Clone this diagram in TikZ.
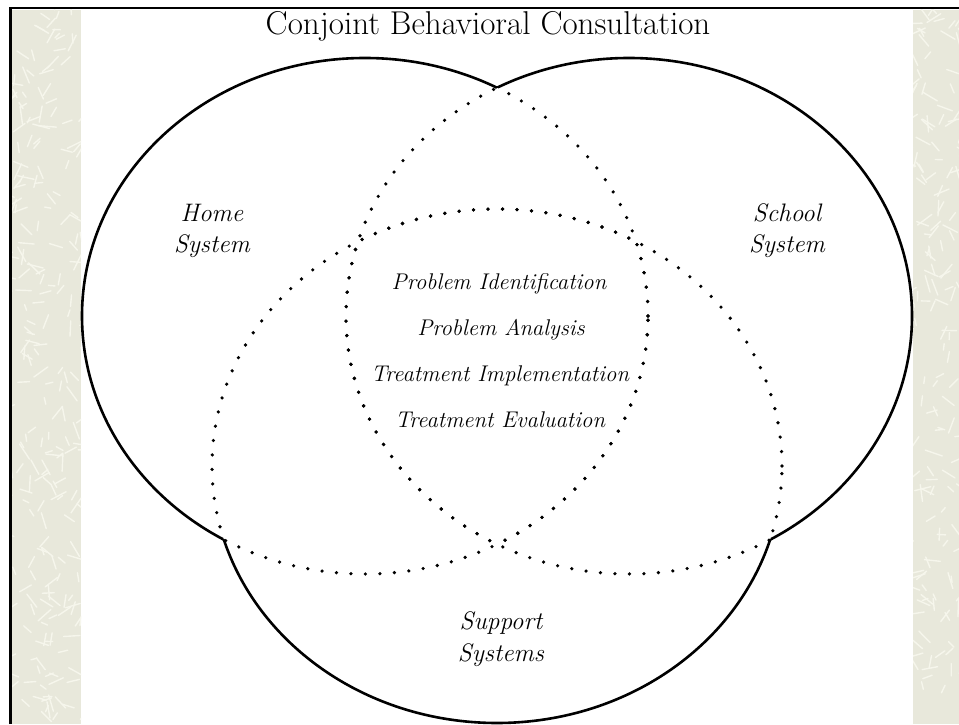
\documentclass[tikz,border=0pt]{standalone}
\usepackage{fontspec}
\definecolor{strip}{RGB}{232,232,219}
\definecolor{stickc}{RGB}{246,246,236}
\begin{document}
\begin{tikzpicture}[x=1pt,y=1pt,
  outline/.style={line width=2.6pt, black},
  dotline/.style={line width=3.6pt, line cap=round, dash pattern=on 0pt off 14.5pt, black},
  stick/.style={line width=1.4pt, stickc, line cap=round},
  region/.style={font=\fontsize{25.3}{31}\selectfont\itshape, align=center, inner sep=0pt},
  stage/.style={font=\fontsize{22.7}{26}\selectfont\itshape, inner sep=0pt, anchor=base},
  titlestyle/.style={font=\fontsize{33}{38}\selectfont, inner sep=0pt, anchor=base}]
\useasboundingbox (0,0) rectangle (959,724);
\fill[white] (0,0) rectangle (959,724);
% textured side strips
\fill[strip] (12,0) rectangle (81,714);
\fill[strip] (913,0) rectangle (959,714);
\pgfmathsetseed{7}
\begin{scope}
  \clip (12,0) rectangle (81,714);
  \foreach \i in {1,...,240}{
    \pgfmathsetmacro{\px}{8+77*rnd}
    \pgfmathsetmacro{\py}{720*rnd}
    \pgfmathsetmacro{\pa}{360*rnd}
    \pgfmathsetmacro{\pl}{6+12*rnd}
    \draw[stick] (\px,\py) -- ++(\pa:\pl);
  }
\end{scope}
\begin{scope}
  \clip (913,0) rectangle (959,714);
  \foreach \i in {1,...,170}{
    \pgfmathsetmacro{\px}{909+54*rnd}
    \pgfmathsetmacro{\py}{720*rnd}
    \pgfmathsetmacro{\pa}{360*rnd}
    \pgfmathsetmacro{\pl}{6+12*rnd}
    \draw[stick] (\px,\py) -- ++(\pa:\pl);
  }
\end{scope}
% frame
\draw[line width=2.8pt] (10.4,0) -- (10.4,716) -- (959,716);
% solid outer outline: each ellipse outside the two others
\begin{scope}[even odd rule]
  \clip (-20,-20) rectangle (980,745) (629,408) ellipse [x radius=283, y radius=258];
  \clip (-20,-20) rectangle (980,745) (497,258) ellipse [x radius=285, y radius=257];
  \draw[outline] (365,408) ellipse [x radius=283, y radius=258];
\end{scope}
\begin{scope}[even odd rule]
  \clip (-20,-20) rectangle (980,745) (365,408) ellipse [x radius=283, y radius=258];
  \clip (-20,-20) rectangle (980,745) (497,258) ellipse [x radius=285, y radius=257];
  \draw[outline] (629,408) ellipse [x radius=283, y radius=258];
\end{scope}
\begin{scope}[even odd rule]
  \clip (-20,-20) rectangle (980,745) (365,408) ellipse [x radius=283, y radius=258];
  \clip (-20,-20) rectangle (980,745) (629,408) ellipse [x radius=283, y radius=258];
  \draw[outline] (497,258) ellipse [x radius=285, y radius=257];
\end{scope}
% dotted inner arcs: each ellipse inside the others
\begin{scope}
  \clip (629,408) ellipse [x radius=283, y radius=258];
  \draw[dotline] (365,408) ellipse [x radius=283, y radius=258];
\end{scope}
\begin{scope}
  \clip (497,258) ellipse [x radius=285, y radius=257];
  \draw[dotline] (365,408) ellipse [x radius=283, y radius=258];
\end{scope}
\begin{scope}
  \clip (365,408) ellipse [x radius=283, y radius=258];
  \draw[dotline] (629,408) ellipse [x radius=283, y radius=258];
\end{scope}
\begin{scope}
  \clip (497,258) ellipse [x radius=285, y radius=257];
  \draw[dotline] (629,408) ellipse [x radius=283, y radius=258];
\end{scope}
\begin{scope}
  \clip (365,408) ellipse [x radius=283, y radius=258];
  \draw[dotline] (497,258) ellipse [x radius=285, y radius=257];
\end{scope}
\begin{scope}
  \clip (629,408) ellipse [x radius=283, y radius=258];
  \draw[dotline] (497,258) ellipse [x radius=285, y radius=257];
\end{scope}
% texts
\node[titlestyle] (title) at (488,689.5) {Conjoint Behavioral Consultation};
\node[region] (home) at (212,492.6) {Home\\System};
\node[region] (school) at (787,493.8) {School\\System};
\node[region, font=\fontsize{25.3}{32}\selectfont\itshape] (support) at (501,84.5) {Support\\Systems};
\node[stage] (pi) at (499,434) {Problem Identification};
\node[stage] (pa) at (501,388) {Problem Analysis};
\node[stage] (ti) at (500,342) {Treatment Implementation};
\node[stage] (te) at (500,297) {Treatment Evaluation};
\end{tikzpicture}
\end{document}
